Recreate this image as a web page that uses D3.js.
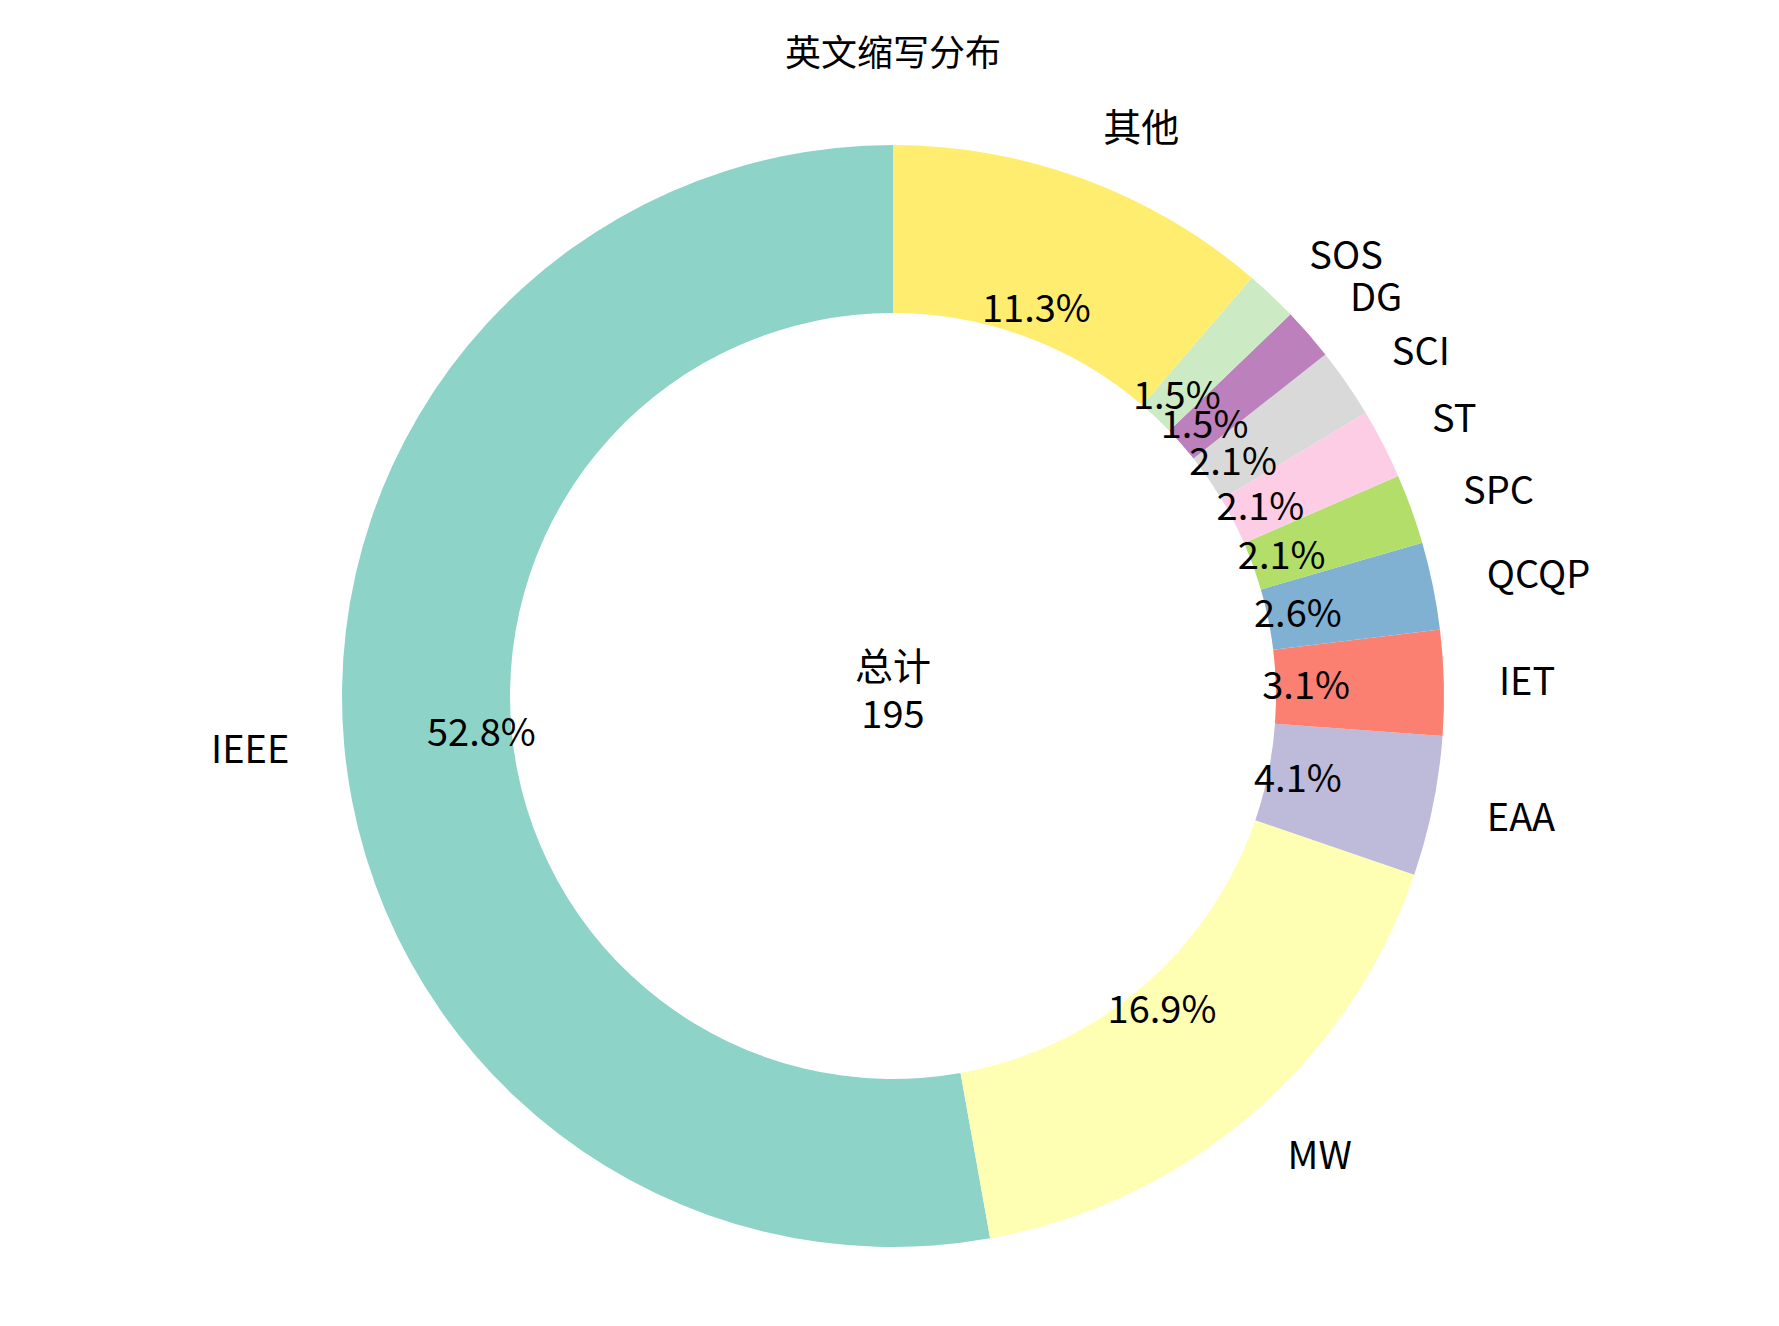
<!DOCTYPE html>
<html><head><meta charset="utf-8">
<script src="https://cdn.jsdelivr.net/npm/d3@7"></script>
<style>body{margin:0;background:#fff}text{font-family:"Noto Sans CJK SC","Noto Sans",sans-serif}</style>
</head><body><svg id="c" width="1779" height="1326"></svg>
<script>
const categories=["IEEE","MW","EAA","IET","QCQP","SPC","ST","SCI","DG","SOS","其他"];
const values=[103,33,8,6,5,4,4,4,3,3,22];
const colors=["#8dd3c7","#ffffb3","#bebada","#fb8072","#80b1d3","#b3de69","#fccde5","#d9d9d9","#bc80bd","#ccebc5","#ffed6f"];
const total=d3.sum(values);
const svg=d3.select("#c");
const cx=893,cy=696,R=551,r=383;
svg.append("text").attr("x",cx).attr("y",66).attr("text-anchor","middle").attr("font-size",36).text("英文缩写分布");
const g=svg.append("g").attr("transform",`translate(${cx},${cy})`);
const pie=d3.pie().sort(null).value(d=>d).startAngle(0).endAngle(-2*Math.PI);
const arcs=pie(values);
const arc=d3.arc().innerRadius(r).outerRadius(R);
g.selectAll("path").data(arcs).join("path").attr("d",arc).attr("fill",(d,i)=>colors[i]);
function pos(d,k){const a=(d.startAngle+d.endAngle)/2;return [k*Math.sin(a),-k*Math.cos(a)];}
g.selectAll("text.pct").data(arcs).join("text").attr("class","pct")
 .attr("x",d=>pos(d,R*0.75)[0]).attr("y",d=>pos(d,R*0.75)[1]).attr("dy","0.35em")
 .attr("text-anchor","middle").attr("font-size",38)
 .text(d=>(d.data/total*100).toFixed(1)+"%");
g.selectAll("text.lab").data(arcs).join("text").attr("class","lab")
 .attr("x",d=>pos(d,R*1.1)[0]).attr("y",d=>pos(d,R*1.1)[1]).attr("dy","0.35em")
 .attr("text-anchor",d=>{const x=pos(d,1)[0];return Math.abs(x)<0.05?"middle":(x>0?"start":"end");})
 .attr("font-size",38).text((d,i)=>categories[i]);
g.append("text").attr("y",-16).attr("text-anchor","middle").attr("font-size",38).text("总计");
g.append("text").attr("y",32).attr("text-anchor","middle").attr("font-size",38).text(total);
</script></body></html>
